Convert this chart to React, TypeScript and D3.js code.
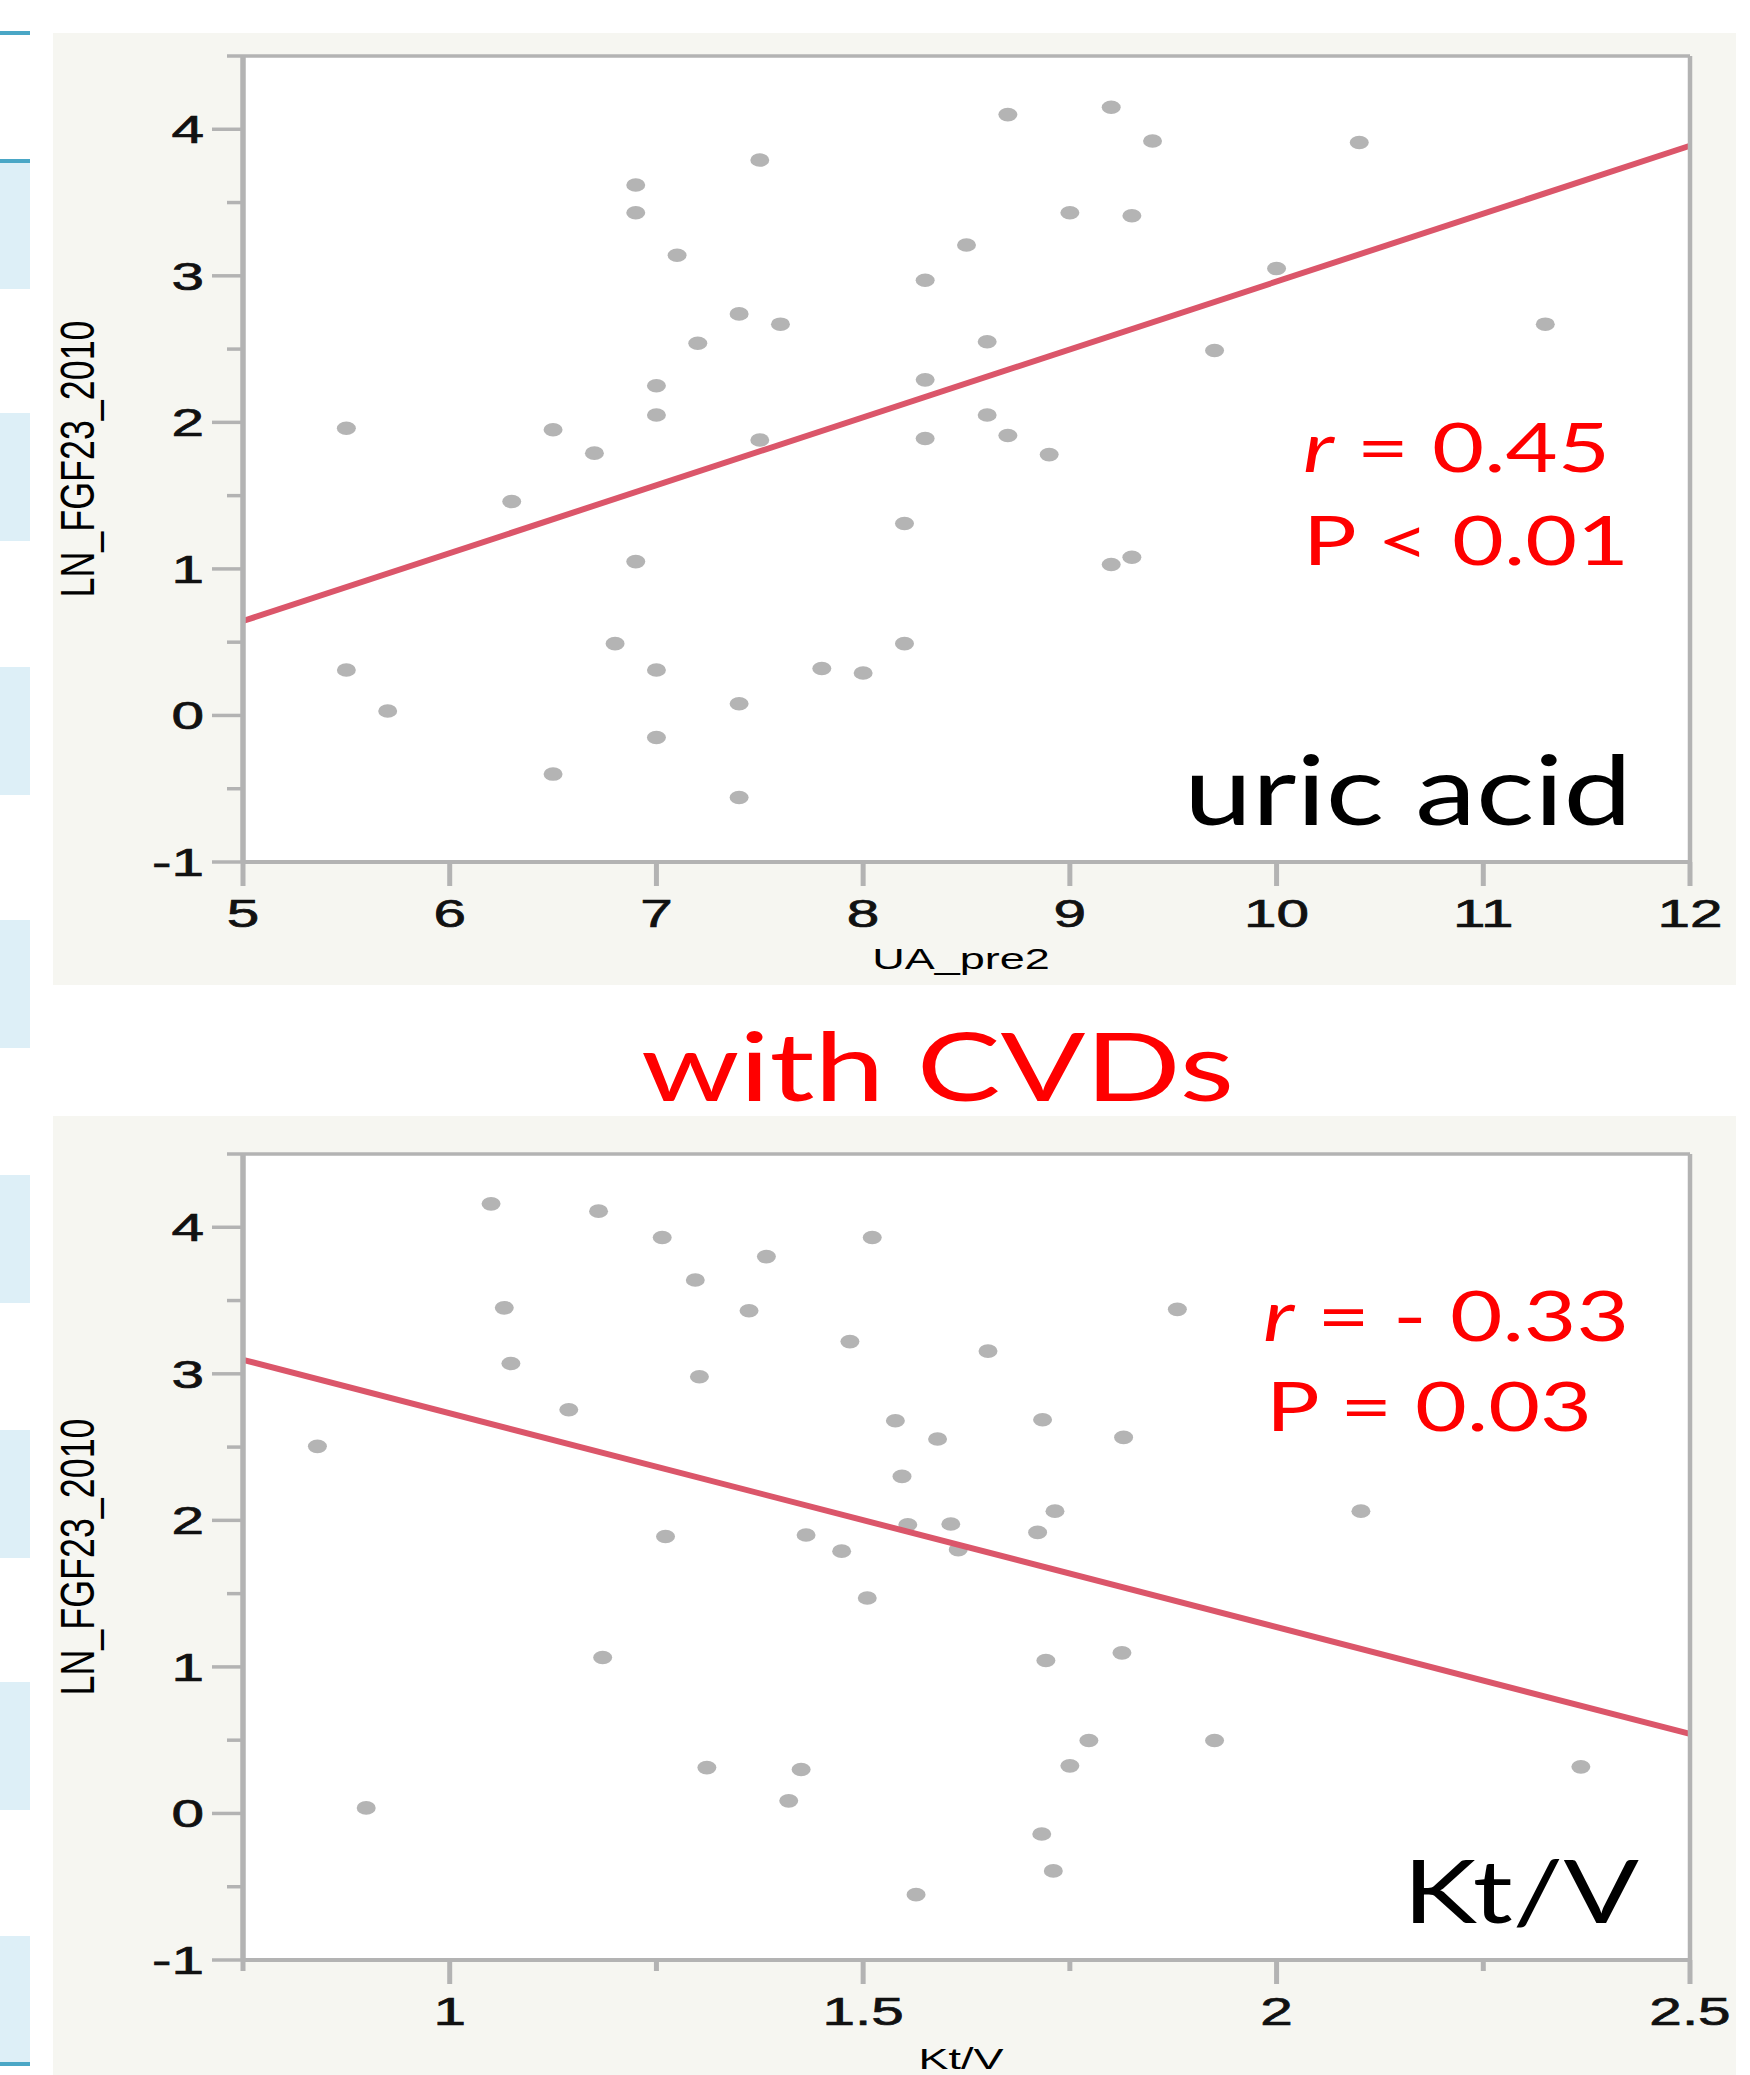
import React from 'react';
import * as d3 from 'd3';

// uric acid panel (UA_pre2 vs LN_FGF23_2010)
const uricX = [7.5, 6.9, 6.9, 7.1, 8.5, 8.3, 7.4, 7.6, 7.2, 7.0, 7.0, 8.3, 5.5, 6.5, 7.5, 8.3, 6.7,
  8.7, 9.2, 9.4, 10.4, 9.0, 9.3, 10.0, 11.3, 8.6, 9.7, 8.6, 8.7, 8.9,
  6.3, 8.2, 6.9, 6.8, 8.2, 5.5, 7.0, 7.8, 8.0, 5.7, 7.4, 7.0, 6.5, 7.4, 9.2, 9.3];
const uricY = [3.79, 3.62, 3.43, 3.14, 3.21, 2.97, 2.74, 2.67, 2.54, 2.25, 2.05, 2.29, 1.96, 1.95, 1.88, 1.89, 1.79,
  4.10, 4.15, 3.92, 3.91, 3.43, 3.41, 3.05, 2.67, 2.55, 2.49, 2.05, 1.91, 1.78,
  1.46, 1.31, 1.05, 0.49, 0.49, 0.31, 0.31, 0.32, 0.29, 0.03, 0.08, -0.15, -0.40, -0.56, 1.03, 1.08];
const uricFit = { intercept: -1.672, slope: 0.4633 };
const uricXTicks = [5, 6, 7, 8, 9, 10, 11, 12];
const uricXMinor: number[] = [];

// Kt/V panel
const ktvX = [1.05, 1.18, 1.257, 1.511, 1.383, 1.297, 1.066, 1.362, 1.484, 1.074, 1.302, 1.144, 0.84, 1.539, 1.59, 1.547, 1.554, 1.606, 1.261, 1.431, 1.474, 1.615,
  1.88, 1.651, 1.717, 1.815, 1.732, 1.711, 2.102,
  1.505, 1.185, 1.311, 1.425, 1.41, 0.899, 1.564,
  1.721, 1.813, 1.773, 1.925, 1.75, 2.368, 1.716, 1.73];
const ktvY = [4.16, 4.11, 3.93, 3.93, 3.80, 3.64, 3.45, 3.43, 3.22, 3.07, 2.98, 2.755, 2.505, 2.68, 2.555, 2.30, 1.97, 1.975, 1.89, 1.90, 1.79, 1.80,
  3.44, 3.155, 2.687, 2.566, 2.063, 1.918, 2.063,
  1.47, 1.064, 0.313, 0.30, 0.086, 0.038, -0.554,
  1.044, 1.096, 0.498, 0.498, 0.325, 0.318, -0.14, -0.392];
const ktvFit = { intercept: 4.19, slope: -1.459 };
const ktvXTicks = [1, 1.5, 2, 2.5];
const ktvXMinor = [0.75, 1.25, 1.75, 2.25];

const yTicks = [-1, 0, 1, 2, 3, 4];
const yMinor = [-0.5, 0.5, 1.5, 2.5, 3.5, 4.5];

const AXIS = '#b3b3b3';
const DOT = '#b4b4b4';
const FIT = '#db566a';
const RED = '#ff0000';
const SANS = '"Liberation Sans", Arial, sans-serif';
const CAL = 'Lato, "Open Sans", sans-serif';
const SX = 1.5; // the slide image is stretched horizontally

type PanelProps = {
  xs: number[]; ys: number[]; fit: { intercept: number; slope: number };
  xDomain: [number, number]; xTicks: number[]; xMinor: number[];
  top: number; bgTop: number; bgH: number; xTitle: string; xTitleY: number;
};

function Panel(p: PanelProps) {
  const left = 243, right = 1690, bottom = p.top + 806;
  const x = d3.scaleLinear().domain(p.xDomain).range([left, right]);
  const y = d3.scaleLinear().domain([-1, 4.5]).range([bottom, p.top]);
  const fitLine = d3.line<number>()
    .x(d => x(d))
    .y(d => y(p.fit.intercept + p.fit.slope * d));

  return (
    <g>
      <rect x={53} y={p.bgTop} width={1683} height={p.bgH} fill="#f6f6f1" />
      <rect x={left} y={p.top} width={right - left} height={bottom - p.top} fill="#fff" />

      {p.xs.map((d, i) => (
        <ellipse key={i} cx={x(d)} cy={y(p.ys[i])} rx={9.5} ry={6.8} fill={DOT} />
      ))}
      <path d={fitLine(p.xDomain) || ''} fill="none" stroke={FIT} strokeWidth={6} />

      {/* frame */}
      <line x1={left} x2={right} y1={p.top} y2={p.top} stroke={AXIS} strokeWidth={3.5} />
      <line x1={right} x2={right} y1={p.top} y2={bottom} stroke={AXIS} strokeWidth={4.5} />
      <line x1={left} x2={right} y1={bottom} y2={bottom} stroke={AXIS} strokeWidth={4} />
      <line x1={left} x2={left} y1={p.top} y2={bottom} stroke={AXIS} strokeWidth={5.5} />

      <g fontFamily={SANS} fontSize={39} fill="#111" stroke="#111" strokeWidth={0.7}>
        {yTicks.map(t => (
          <text key={'yl' + t} transform={`translate(204,${y(t) + 14}) scale(${SX},1)`} textAnchor="end">{t}</text>
        ))}
        {p.xTicks.map(t => (
          <text key={'xl' + t} transform={`translate(${x(t)},${bottom + 65}) scale(${SX},1)`} textAnchor="middle">{String(t)}</text>
        ))}
      </g>
      {yTicks.map(t => (
        <line key={'y' + t} x1={212} x2={left} y1={y(t)} y2={y(t)} stroke={AXIS} strokeWidth={3.5} />
      ))}
      {yMinor.map(t => (
        <line key={'ym' + t} x1={227} x2={left} y1={y(t)} y2={y(t)} stroke={AXIS} strokeWidth={3.5} />
      ))}
      {p.xTicks.map(t => (
        <line key={'x' + t} x1={x(t)} x2={x(t)} y1={bottom} y2={bottom + 24} stroke={AXIS} strokeWidth={5} />
      ))}
      {p.xMinor.map(t => (
        <line key={'xm' + t} x1={x(t)} x2={x(t)} y1={bottom} y2={bottom + 11} stroke={AXIS} strokeWidth={5} />
      ))}

      <text transform={`translate(961,${p.xTitleY}) scale(${SX},1)`} textAnchor="middle"
        fontFamily={SANS} fontSize={30} fill="#000">{p.xTitle}</text>
      <text transform={`translate(94,${(p.top + bottom) / 2}) scale(${SX},1) rotate(-90)`} textAnchor="middle"
        fontFamily={SANS} fontSize={32} textLength={277} lengthAdjust="spacingAndGlyphs" fill="#000">LN_FGF23_2010</text>
    </g>
  );
}

const stripRects = [161, 413, 667, 920, 1175, 1430, 1682, 1936];

export default function App() {
  return (
    <svg width={1750} height={2075} style={{ position: 'absolute', left: 0, top: 0, background: '#fff' }}>
      {stripRects.map(r => (
        <rect key={r} x={0} y={r} width={30} height={128} fill="#ddeff7" />
      ))}
      <rect x={0} y={31} width={30} height={4} fill="#4aa7c6" />
      <rect x={0} y={159} width={30} height={4} fill="#4aa7c6" />
      <rect x={0} y={2062} width={30} height={4} fill="#4aa7c6" />

      <Panel xs={uricX} ys={uricY} fit={uricFit} xDomain={[5, 12]} xTicks={uricXTicks} xMinor={uricXMinor}
        top={56} bgTop={33} bgH={952} xTitle="UA_pre2" xTitleY={969} />
      <Panel xs={ktvX} ys={ktvY} fit={ktvFit} xDomain={[0.75, 2.5]} xTicks={ktvXTicks} xMinor={ktvXMinor}
        top={1154} bgTop={1116} bgH={959} xTitle="Kt/V" xTitleY={2069} />

      <g fontFamily={CAL} fill={RED}>
        <text x={1303} y={472} fontSize={68} textLength={307} lengthAdjust="spacingAndGlyphs">
          <tspan fontStyle="italic">r</tspan> = 0.45</text>
        <text x={1303} y={565} fontSize={68} textLength={326} lengthAdjust="spacingAndGlyphs">P &lt; 0.01</text>
        <text x={1263} y={1341} fontSize={70} textLength={366} lengthAdjust="spacingAndGlyphs">
          <tspan fontStyle="italic">r</tspan> = - 0.33</text>
        <text x={1266} y={1431} fontSize={68} textLength={326} lengthAdjust="spacingAndGlyphs">P = 0.03</text>
        <text x={641} y={1101} fontSize={95} textLength={593} lengthAdjust="spacingAndGlyphs">with CVDs</text>
      </g>
      <text x={1184} y={825} fontFamily={CAL} fontSize={96} fill="#000" textLength={448} lengthAdjust="spacingAndGlyphs">uric acid</text>
      <text x={1403} y={1923} fontFamily={CAL} fontSize={88} fill="#000" textLength={236} lengthAdjust="spacingAndGlyphs">Kt/V</text>
    </svg>
  );
}
